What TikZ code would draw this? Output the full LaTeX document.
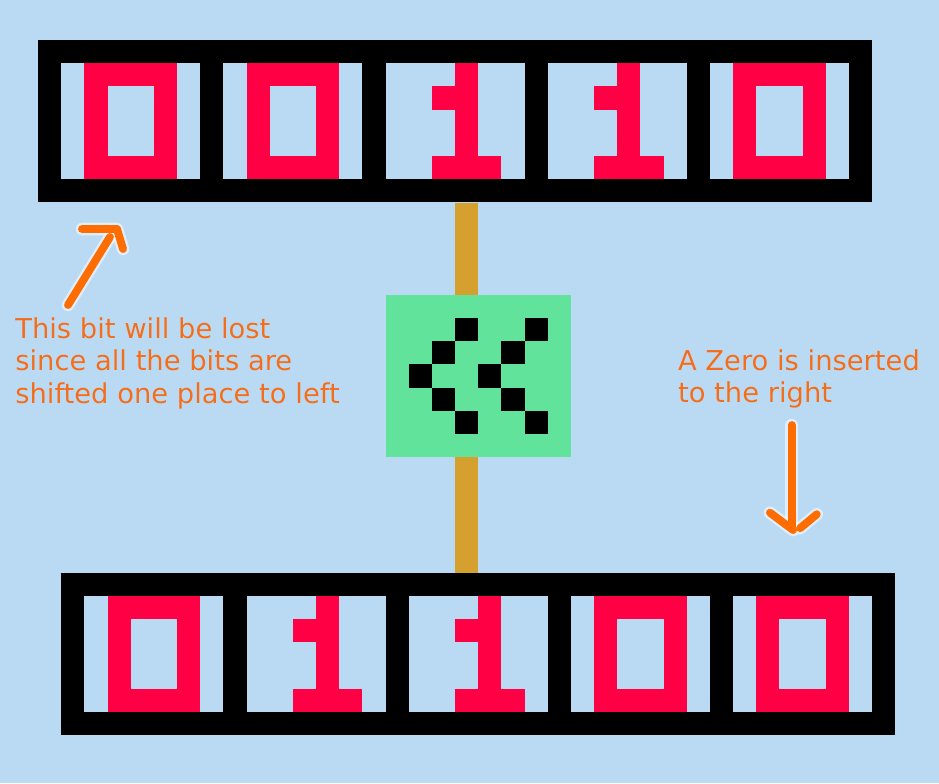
\documentclass[tikz,border=0pt]{standalone}
\usepackage{fontspec}
\usepackage[outline]{contour}
\newfontfamily\labelfont{DejaVu Sans}
\definecolor{bg}{RGB}{186,218,243}
\definecolor{bitred}{RGB}{255,0,68}
\definecolor{shiftgreen}{RGB}{98,227,155}
\definecolor{wiregold}{RGB}{213,160,45}
\definecolor{notetext}{RGB}{240,110,30}
\definecolor{notearrow}{RGB}{255,108,0}
\contourlength{0.9pt}
\contournumber{24}
\newcommand\bitzero[2]{%
  \fill[bitred] (#1+1,#2) rectangle (#1+5,#2+5);
  \fill[bg] (#1+2,#2+1) rectangle (#1+4,#2+4);}
\newcommand\bitone[2]{%
  \fill[bitred] (#1+3,#2) rectangle (#1+4,#2+5);
  \fill[bitred] (#1+2,#2+1) rectangle (#1+3,#2+2);
  \fill[bitred] (#1+2,#2+4) rectangle (#1+5,#2+5);}
\newcommand\regcells[2]{%
  \foreach \k in {0,...,4}{\fill[bg] (#1+1+7*\k,#2+1) rectangle (#1+7+7*\k,#2+6);}}
\tikzset{
  regbox/.style={fill=black, draw=none, minimum width=18cm, minimum height=3.5cm, inner sep=0pt},
  shiftbox/.style={fill=shiftgreen, draw=none, minimum width=4cm, minimum height=3.5cm, inner sep=0pt},
  wire/.style={draw=wiregold, line width=0.5cm},
  note/.style={text=notetext, font=\labelfont\fontsize{16.8}{20}\selectfont, align=left, inner sep=0pt, anchor=base west},
  glowline/.style={draw=white, opacity=0.55, line width=0.27cm, line cap=round, line join=round},
  arrowline/.style={draw=notearrow, line width=0.17cm, line cap=round, line join=round},
}
\begin{document}
\begin{tikzpicture}[x=0.5cm,y=-0.5cm]
\fill[bg] (-1.640,-1.726) rectangle (38.886,32.067);
\useasboundingbox (-1.640,-1.726) rectangle (38.886,32.067);
% top register
\node[regbox] (topreg) at (18,3.5) {};
\regcells{0}{0}
\bitzero{1}{1}\bitzero{8}{1}\bitone{15}{1}\bitone{22}{1}\bitzero{29}{1}
% bottom register
\node[regbox] (botreg) at (19,26.5) {};
\regcells{1}{23}
\bitzero{2}{24}\bitone{9}{24}\bitone{16}{24}\bitzero{23}{24}\bitzero{30}{24}
% shifter
\node[shiftbox] (shifter) at (19,14.5) {};
\foreach \c/\r in {18/12,17/13,16/14,17/15,18/16,21/12,20/13,19/14,20/15,21/16}
  {\fill[black] (\c,\r) rectangle (\c+1,\r+1);}
% wires
\draw[wire] ([xshift=-0.25cm]shifter.north |- topreg.south) -- ([xshift=-0.25cm]shifter.north);
\draw[wire] ([xshift=-0.25cm]shifter.south) -- ([xshift=-0.25cm]shifter.south |- botreg.north);
% notes (anchor at baseline of last line)
\node[note] (lostnote) at (-0.993,15.68) {\contour{white!55!bg}{This bit will be lost}\\\contour{white!55!bg}{since all the bits are}\\\contour{white!55!bg}{shifted one place to left}};
\node[note] (zeronote) at (27.61,15.65) {\contour{white!55!bg}{A Zero is inserted}\\\contour{white!55!bg}{to the right}};
% arrows
\coordinate (la1) at (1.295,11.437);
\coordinate (la2) at (3.107,8.502);
\coordinate (lh1) at (1.899,8.157);
\coordinate (lh2) at (3.410,8.157);
\coordinate (lh3) at (3.669,9.020);
\coordinate (ra1) at (32.53,16.62);
\coordinate (ra2) at (32.53,21.01);
\coordinate (rh1) at (31.59,20.40);
\coordinate (rh2) at (32.59,21.15);
\coordinate (rh3) at (33.61,20.47);
\coordinate (rh4) at (32.89,21.07);
\foreach \s in {glowline,arrowline}{
  \draw[\s] (la1) -- (la2);
  \draw[\s] (lh1) -- (lh2) -- (lh3);
  \draw[\s] (ra1) -- (ra2);
  \draw[\s] (rh1) -- (rh2);
  \draw[\s] (rh3) -- (rh4);
}
\end{tikzpicture}
\end{document}
